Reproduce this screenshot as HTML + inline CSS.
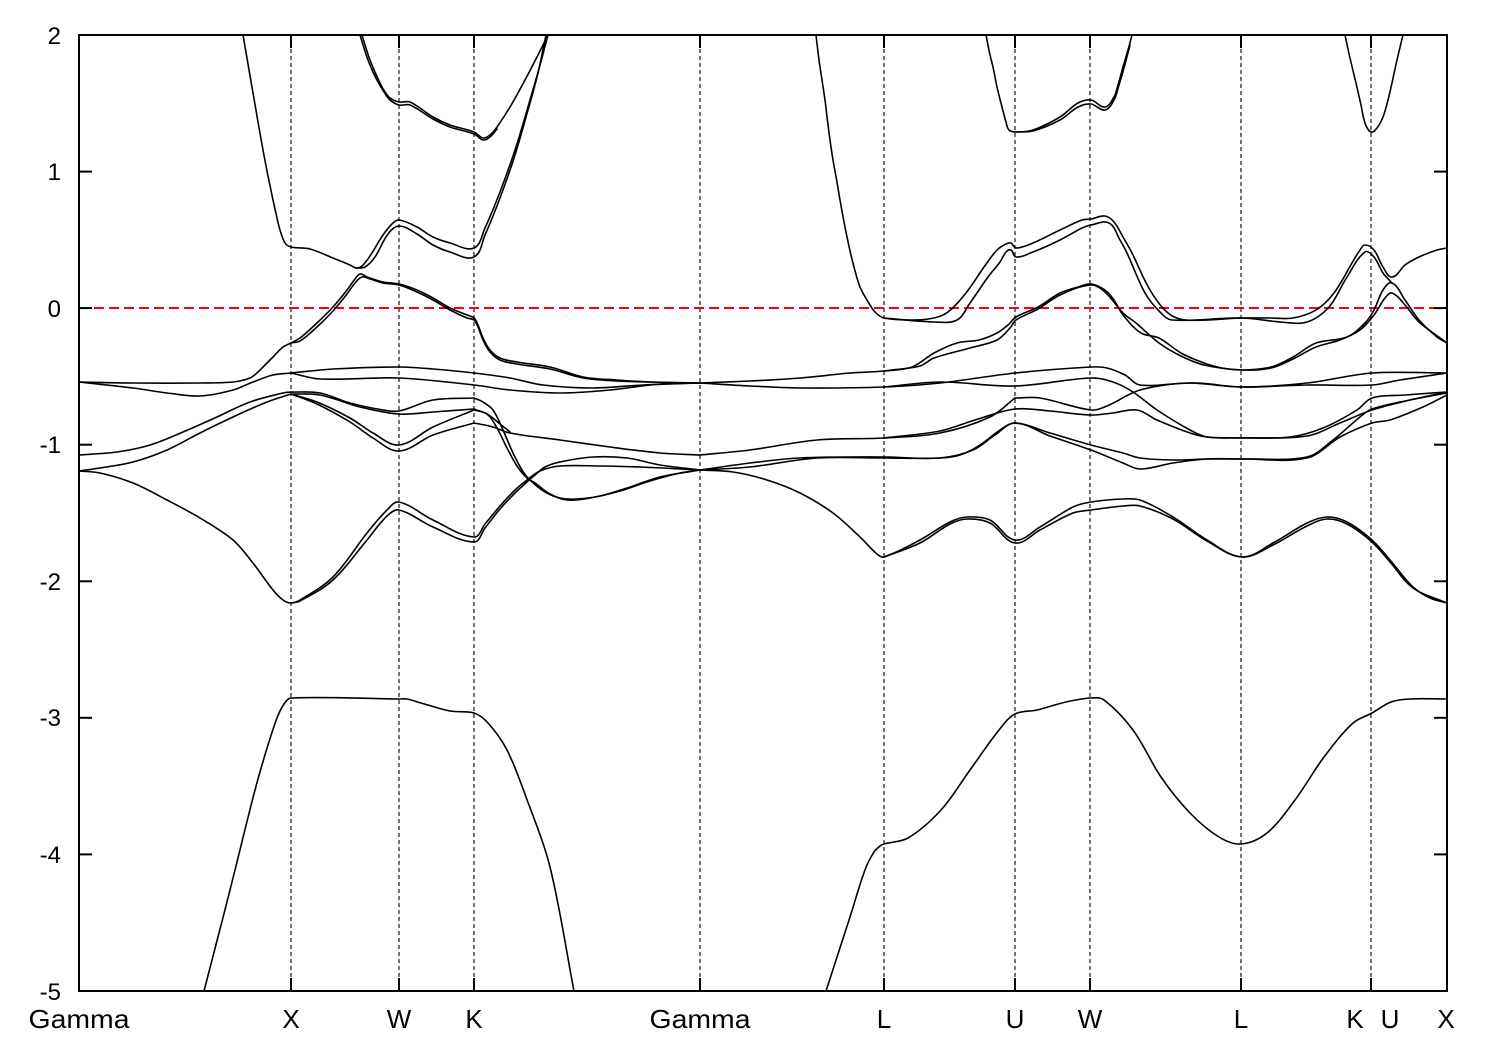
<!DOCTYPE html>
<html><head><meta charset="utf-8"><style>
html,body{margin:0;padding:0;background:#fff;}
svg{display:block;}
.b{fill:none;stroke:#000;stroke-width:1.6;stroke-linejoin:round;stroke-linecap:round;}
.g{stroke:#000;stroke-width:1.1;stroke-dasharray:4,3;}
.t{stroke:#000;stroke-width:2;}
text{font-family:"Liberation Sans",Arial,sans-serif;fill:#000;}
</style></head><body>
<svg id="sv" width="1500" height="1050" viewBox="0 0 1500 1050" xmlns="http://www.w3.org/2000/svg">
<rect x="0" y="0" width="1500" height="1050" fill="#fff"/>
<g>
<line class="g" x1="291" y1="35" x2="291" y2="991"/>
<line class="g" x1="399" y1="35" x2="399" y2="991"/>
<line class="g" x1="474" y1="35" x2="474" y2="991"/>
<line class="g" x1="700" y1="35" x2="700" y2="991"/>
<line class="g" x1="884" y1="35" x2="884" y2="991"/>
<line class="g" x1="1015" y1="35" x2="1015" y2="991"/>
<line class="g" x1="1090" y1="35" x2="1090" y2="991"/>
<line class="g" x1="1241" y1="35" x2="1241" y2="991"/>
<line class="g" x1="1371" y1="35" x2="1371" y2="991"/>
</g>
<line x1="79" y1="308" x2="1447" y2="308" stroke="#ff0000" stroke-width="2" stroke-dasharray="10,5"/>
<g id="bands">
<polyline class="b" points="204,991 230,890 255,790 268,745 277,718 284,704 291,698 399,699 407,699 421,703 450,711 474,713 488,723 507,750 526,797 550,867 574,991"/>
<polyline class="b" points="826,991 850,917 865,870 874,852 880,846 884,844 908,838 941,810 970,770 999,730 1015,714 1037,710 1066,702 1091,698 1104,700 1133,730 1161,777 1190,813 1219,837 1241,844 1267,833 1295,800 1324,757 1353,723 1372,713 1391,702 1410,699 1447,699"/>

<polyline class="b" points="79,471 100,473 133,483 167,500 200,518 233,540 253,563 273,590 283,600 291,603 300,600 333,577 367,533 387,510 399,502 433,520 474,537 485,524 500,506 515,490 527,480 540,471 560,466 600,466 640,467 700,470"/>
<polyline class="b" points="291,603 300,601 333,580 367,540 387,516 399,510 433,527 474,542 485,528 500,509 515,493 527,482 535,475 545,467 560,462 593,457 627,458 660,465 700,470"/>

<polyline class="b" points="700,470 733,472 767,480 800,493 833,513 860,537 877,554 884,557 920,540 950,522 967,517 990,520 1015,540 1040,527 1073,507 1091,502 1123,499 1140,500 1173,517 1207,540 1242,557 1273,543 1307,523 1327,517 1347,522 1372,540 1390,560 1413,587 1430,598 1447,603"/>
<polyline class="b" points="884,557 920,543 950,524 967,519 990,523 1015,543 1040,530 1073,513 1091,510 1123,506 1140,506 1173,519 1207,541 1242,557 1273,545 1307,526 1327,519 1347,524 1372,542 1390,562 1413,588 1447,603"/>

<polyline class="b" points="474,398 483,402 493,410 503,430 513,453 522,470 530,480 545,492 560,498 577,499 600,496 627,488 660,477 700,470"/>
<polyline class="b" points="474,410 487,414 497,428 507,448 517,466 527,478 535,483 550,494 567,500 590,498 620,491 650,481 680,473 700,470"/>
<polyline class="b" points="474,423 493,427 510,433 560,440 610,447 660,453 700,455"/>
<polyline class="b" points="474,409 487,414 500,424 510,432"/>

<polyline class="b" points="291,392 320,393 350,403 383,410 399,411 433,400 474,398"/>
<polyline class="b" points="291,394 320,395 360,407 399,414 433,412 474,409"/>
<polyline class="b" points="291,394 317,402 350,418 373,433 399,445 433,427 474,410"/>
<polyline class="b" points="291,394 317,404 350,422 373,438 399,451 433,435 474,423"/>

<polyline class="b" points="79,455 117,452 150,445 183,432 217,417 250,402 283,393 291,392"/>
<polyline class="b" points="79,471 100,468 133,462 167,450 200,433 233,417 267,402 291,394"/>

<polyline class="b" points="79,382 133,383 200,383 233,382 250,378 258,372 265,365 273,357 283,347 291,343"/>
<polyline class="b" points="79,382 133,388 167,393 200,396 233,390 253,382 273,375 291,373"/>
<polyline class="b" points="291,373 333,369 399,367 433,369 474,373 510,378 543,385 593,388 643,385 700,383"/>
<polyline class="b" points="291,373 320,379 399,378 474,385 510,390 560,393 610,390 660,384 700,383"/>

<polyline class="b" points="700,383 750,386 800,388 884,387 940,383 1015,373 1091,367 1107,368 1125,375 1140,385 1190,383 1242,387 1307,383 1372,373 1447,373"/>
<polyline class="b" points="884,387 940,382 1015,386 1091,378 1113,382 1133,392 1157,410 1190,430 1207,437 1242,438"/>
<polyline class="b" points="1015,398 1040,398 1091,410 1107,406 1140,390 1190,383 1242,387 1307,385 1372,385 1400,380 1447,373"/>

<polyline class="b" points="700,455 750,450 817,440 884,438 940,433 990,417 1015,398"/>
<polyline class="b" points="884,438 940,431 975,420 1015,409 1050,411 1091,415 1113,413 1137,410 1157,420 1190,433 1207,437 1242,438"/>
<polyline class="b" points="700,470 750,467 817,458 884,458 940,458 960,455 980,445 1000,430 1015,423 1050,433 1091,445 1123,453 1140,458 1173,460 1207,459 1242,459"/>
<polyline class="b" points="700,470 750,463 800,458 884,457 940,458 973,450 995,435 1015,423 1050,436 1091,450 1123,463 1140,469 1173,463 1207,459 1242,459"/>

<polyline class="b" points="1242,438 1290,437 1323,428 1357,410 1372,398 1405,395 1447,392"/>
<polyline class="b" points="1242,438 1307,436 1340,423 1372,410 1410,400 1447,392"/>
<polyline class="b" points="1242,459 1307,457 1333,440 1360,417 1372,409 1410,400 1447,393"/>
<polyline class="b" points="1242,459 1307,458 1340,437 1372,423 1390,420 1423,407 1447,395"/>

<polyline class="b" points="291,343 300,338 317,323 333,307 347,290 355,279 360,274 367,277 383,282 399,284 417,290 433,298 450,308 467,315 474,318 478,325 483,338 490,350 500,358 517,362 550,367 583,377 617,380 650,382 700,383"/>
<polyline class="b" points="291,343 300,341 317,327 333,311 347,294 355,283 362,277 370,279 383,283 399,285 417,292 433,300 450,310 467,318 474,320 478,327 483,340 490,352 500,360 517,364 550,369 583,378 617,381 650,382 700,383"/>

<polyline class="b" points="700,383 750,381 800,378 850,373 884,371 912,367 934,353 957,343 979,340 997,333 1008,325 1016,317 1038,307 1060,293 1078,287 1091,284 1105,290 1114,300 1123,315 1141,333 1159,338 1181,353 1204,363 1222,368 1242,370 1271,367 1293,357 1316,343 1347,337 1365,323 1374,310 1383,290 1392,283 1405,300 1419,320 1437,337 1447,343"/>
<polyline class="b" points="884,371 920,366 934,358 970,348 997,340 1010,328 1016,320 1038,309 1060,295 1091,285 1105,292 1123,313 1136,323 1159,343 1181,356 1204,365 1242,370 1271,368 1293,359 1316,347 1340,340 1360,330 1374,315 1385,298 1392,293 1405,305 1419,322 1447,343"/>

<polyline class="b" points="243,35 248,64 253,93 258,122 263,150 268,176 273,200 277,218 280,230 285,243 291,247 310,249 333,258 350,265 356,268 362,266 370,256 383,235 392,224 399,220 417,227 433,237 450,243 474,248 485,228 500,192 515,150 530,100 540,65 548,35"/>
<polyline class="b" points="356,268 365,267 375,257 388,234 399,226 417,234 433,245 450,252 474,257 485,235 500,198 515,155 528,110 538,73 546,35"/>

<polyline class="b" points="816,35 819,60 822,80 825,100 827,117 830,140 833,160 837,182 840,200 847,237 854,267 860,287 867,300 875,312 884,318 912,320 934,318 948,312 966,293 984,267 997,250 1006,244 1011,243 1016,248 1033,243 1060,230 1082,220 1091,219 1105,216 1114,222 1123,237 1132,253 1150,290 1168,313 1186,320 1242,318 1270,318 1293,318 1316,310 1334,293 1352,263 1360,250 1365,245 1374,250 1383,267 1392,277 1405,265 1419,257 1437,250 1447,248"/>
<polyline class="b" points="884,318 934,322 957,320 970,303 988,277 1000,262 1006,252 1011,250 1016,257 1033,252 1060,240 1082,228 1091,225 1109,223 1120,240 1127,253 1145,293 1160,312 1172,320 1242,318 1280,322 1307,322 1329,307 1347,277 1365,252 1374,257 1383,273 1392,283"/>

<polyline class="b" points="362,35 366,48 370,60 375,72 380,83 385,92 390,98 399,102 410,102 433,117 450,125 474,132 483,138 490,135 497,127 510,107 525,80 538,55 548,35"/>
<polyline class="b" points="360,35 364,48 368,60 373,72 378,82 384,92 390,100 399,105 410,105 433,119 450,127 474,134 483,140 490,137 497,129"/>
<polyline class="b" points="986,35 990,55 993,67 997,87 1002,107 1006,122 1009,130 1016,132 1033,130 1060,117 1078,103 1091,100 1105,107 1114,97 1118,85 1123,67 1128,50 1132,35"/>
<polyline class="b" points="1016,132 1033,131 1060,120 1078,107 1091,104 1105,110 1114,100 1119,85 1124,68 1130,45"/>
<polyline class="b" points="1345,35 1350,58 1356,83 1361,105 1365,123 1371,132 1377,128 1383,117 1388,100 1392,83 1397,60 1403,35"/>
</g>
<rect x="79" y="35" width="1368" height="956" fill="none" stroke="#000" stroke-width="2"/>
<g class="t">
<line x1="79" y1="35" x2="92" y2="35"/><line x1="1447" y1="35" x2="1434" y2="35"/>
<line x1="79" y1="171.6" x2="92" y2="171.6"/><line x1="1447" y1="171.6" x2="1434" y2="171.6"/>
<line x1="79" y1="308.1" x2="92" y2="308.1"/><line x1="1447" y1="308.1" x2="1434" y2="308.1"/>
<line x1="79" y1="444.7" x2="92" y2="444.7"/><line x1="1447" y1="444.7" x2="1434" y2="444.7"/>
<line x1="79" y1="581.3" x2="92" y2="581.3"/><line x1="1447" y1="581.3" x2="1434" y2="581.3"/>
<line x1="79" y1="717.8" x2="92" y2="717.8"/><line x1="1447" y1="717.8" x2="1434" y2="717.8"/>
<line x1="79" y1="854.4" x2="92" y2="854.4"/><line x1="1447" y1="854.4" x2="1434" y2="854.4"/>
<line x1="79" y1="991" x2="92" y2="991"/><line x1="1447" y1="991" x2="1434" y2="991"/>
</g>
<g class="t">
<line x1="291" y1="991" x2="291" y2="978"/><line x1="291" y1="35" x2="291" y2="48"/>
<line x1="399" y1="991" x2="399" y2="978"/><line x1="399" y1="35" x2="399" y2="48"/>
<line x1="474" y1="991" x2="474" y2="978"/><line x1="474" y1="35" x2="474" y2="48"/>
<line x1="700" y1="991" x2="700" y2="978"/><line x1="700" y1="35" x2="700" y2="48"/>
<line x1="884" y1="991" x2="884" y2="978"/><line x1="884" y1="35" x2="884" y2="48"/>
<line x1="1015" y1="991" x2="1015" y2="978"/><line x1="1015" y1="35" x2="1015" y2="48"/>
<line x1="1090" y1="991" x2="1090" y2="978"/><line x1="1090" y1="35" x2="1090" y2="48"/>
<line x1="1241" y1="991" x2="1241" y2="978"/><line x1="1241" y1="35" x2="1241" y2="48"/>
<line x1="1371" y1="991" x2="1371" y2="978"/><line x1="1371" y1="35" x2="1371" y2="48"/>
</g>
<g font-size="24" text-anchor="end">
<text x="61" y="44">2</text>
<text x="61" y="180">1</text>
<text x="61" y="317">0</text>
<text x="61" y="453">-1</text>
<text x="61" y="590">-2</text>
<text x="61" y="726">-3</text>
<text x="61" y="863">-4</text>
<text x="61" y="1000">-5</text>
</g>
<g font-size="26" text-anchor="middle">
<text x="79" y="1028" textLength="101" lengthAdjust="spacingAndGlyphs">Gamma</text>
<text x="291" y="1028">X</text>
<text x="399" y="1028">W</text>
<text x="474" y="1028">K</text>
<text x="700" y="1028" textLength="101" lengthAdjust="spacingAndGlyphs">Gamma</text>
<text x="884" y="1028">L</text>
<text x="1015" y="1028">U</text>
<text x="1090" y="1028">W</text>
<text x="1241" y="1028">L</text>
<text x="1355" y="1028">K</text>
<text x="1390" y="1028">U</text>
<text x="1446" y="1028">X</text>
</g>
</svg>
<script>
(function(){
try{
var NS="http://www.w3.org/2000/svg";
var pls=document.querySelectorAll('#bands polyline');
for(var k=0;k<pls.length;k++){
 var pl=pls[k];
 var p=pl.getAttribute('points').trim().split(/\s+/).map(function(s){return s.split(',').map(Number);});
 var n=p.length; if(n<3) continue;
 var t=[];
 for(var i=0;i<n;i++){
  var a=p[Math.max(0,i-1)], b=p[Math.min(n-1,i+1)];
  var dx=b[0]-a[0], dy=b[1]-a[1], L=Math.sqrt(dx*dx+dy*dy)||1;
  t.push([dx/L,dy/L]);
 }
 var d='M'+p[0][0]+','+p[0][1];
 for(var i=0;i<n-1;i++){
  var dx=p[i+1][0]-p[i][0], dy=p[i+1][1]-p[i][1];
  var L=Math.sqrt(dx*dx+dy*dy)/3;
  var c1=[p[i][0]+t[i][0]*L, p[i][1]+t[i][1]*L];
  var c2=[p[i+1][0]-t[i+1][0]*L, p[i+1][1]-t[i+1][1]*L];
  d+=' C'+c1[0].toFixed(1)+','+c1[1].toFixed(1)+' '+c2[0].toFixed(1)+','+c2[1].toFixed(1)+' '+p[i+1][0]+','+p[i+1][1];
 }
 var path=document.createElementNS(NS,'path');
 path.setAttribute('d',d);
 path.setAttribute('class','b');
 pl.parentNode.replaceChild(path,pl);
}
}catch(e){}
})();
</script>
</body></html>
